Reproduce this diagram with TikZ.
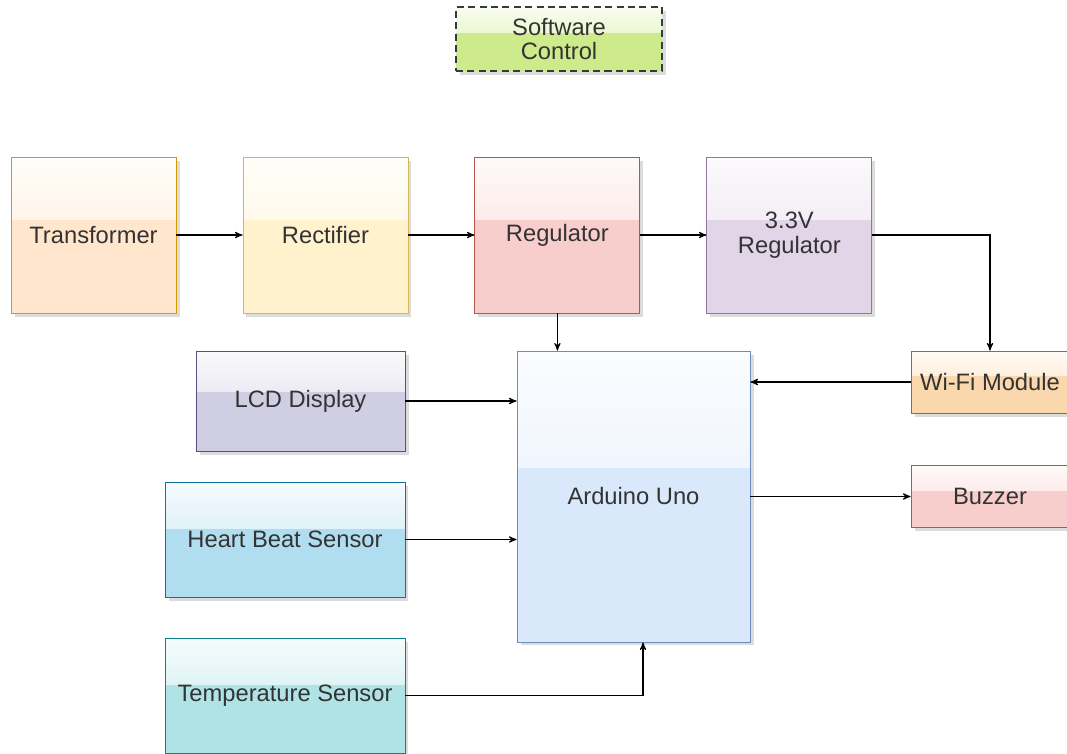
\documentclass[tikz,border=0pt]{standalone}
\usepackage{fontspec}
\setmainfont{Liberation Sans}
\usepackage{xcolor}
\usetikzlibrary{arrows,positioning,shadows,calc}

\definecolor{orFill}{HTML}{FFE6CC}
\definecolor{orLine}{HTML}{D79B00}
\definecolor{yeFill}{HTML}{FFF2CC}
\definecolor{yeLine}{HTML}{D6B656}
\definecolor{reFill}{HTML}{F8CECC}
\definecolor{reLine}{HTML}{B85450}
\definecolor{puFill}{HTML}{E1D5E7}
\definecolor{puLine}{HTML}{9673A6}
\definecolor{lcdFill}{HTML}{D0CEE2}
\definecolor{lcdLine}{HTML}{56517E}
\definecolor{blFill}{HTML}{DAE8FC}
\definecolor{blLine}{HTML}{6C8EBF}
\definecolor{hbFill}{HTML}{B1DDF0}
\definecolor{hbLine}{HTML}{10739E}
\definecolor{tmFill}{HTML}{B0E3E6}
\definecolor{tmLine}{HTML}{0E8088}
\definecolor{wfFill}{HTML}{FAD7AC}
\definecolor{wfLine}{HTML}{B46504}
\definecolor{grFill}{HTML}{CDEB8B}
\definecolor{grLine}{HTML}{36393D}
\definecolor{txt}{HTML}{333333}

\begin{document}
\begin{tikzpicture}[->,>=stealth',line width=0.6pt,x=0.02cm,y=-0.02cm,
            node distance=4.64cm,font=\fontsize{13.5}{14}\selectfont]
        \tikzstyle{blk}=[rectangle,draw=#1Line,fill=#1Fill,text=txt,align=center,line width=0.5pt,
            drop shadow={shadow xshift=2pt,shadow yshift=-2pt,fill=black!30,opacity=0.45},
            path picture={\fill[top color=#1Fill!12!white,bottom color=#1Fill!80!white]
                (path picture bounding box.north west) rectangle
                ($(path picture bounding box.north east)!0.4!(path picture bounding box.south east)$);}]
        \tikzstyle{big}=[minimum width=3.3cm,minimum height=3.12cm]

        \useasboundingbox (0,0) rectangle (1067,753);

        \node[blk=gr, dashed, dash pattern=on 4pt off 2.5pt, line width=1.3pt,
            minimum width=4.12cm, minimum height=1.28cm] (SW) at (559,39) {Software\\Control};

        \node[blk=or, big] (Tr) at (93.5,235) {Transformer};
        \node[blk=ye, big] (Rect) [right of=Tr] {Rectifier};
        \node[blk=re, big] (Reg) [right of=Rect] {Regulator};
        \node[blk=pu, big] (Reg3) [right of=Reg] {3.3V\\Regulator};

        \node[blk=bl, minimum width=4.66cm, minimum height=5.82cm] (Ard) at (633.5,496.5) {Arduino Uno};
        \node[blk=lcd, minimum width=4.18cm, minimum height=2cm] (LCD) at (300.5,401) {LCD Display};
        \node[blk=hb, minimum width=4.8cm, minimum height=2.3cm] (HB) at (285,539.5) {Heart Beat Sensor};
        \node[blk=tm, minimum width=4.8cm, minimum height=2.3cm] (Temp) at (285,695.5) {Temperature Sensor};
        \node[blk=wf, minimum width=3.16cm, minimum height=1.24cm] (WiFi) at (990,382) {Wi-Fi Module};
        \node[blk=re, minimum width=3.16cm, minimum height=1.24cm] (Buz) at (990,496.5) {Buzzer};

        \path (Tr) edge (Rect);
        \path (Rect) edge (Reg);
        \path (Reg) edge (Reg3);
        \draw (Reg3) -| (WiFi);
        \draw (Reg) -- (Reg |- Ard.north);
        \draw (WiFi) -- (WiFi -| Ard.east);
        \draw (LCD) -- (LCD -| Ard.west);
        \draw (HB) -- (HB -| Ard.west);
        \path (Ard) edge (Buz);
        \draw (Temp) -| ([xshift=0.19cm]Ard.south);
    \end{tikzpicture}
\end{document}
